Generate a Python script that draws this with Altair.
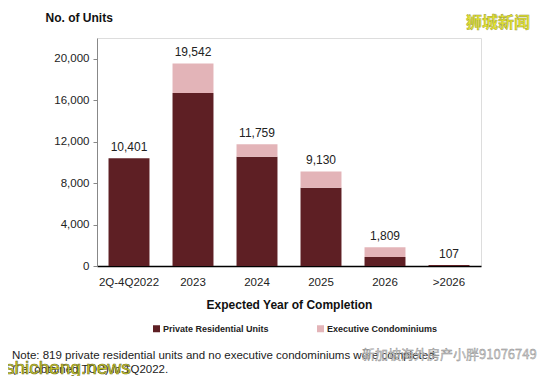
import altair as alt
import pandas as pd

categories = ["2Q-4Q2022", "2023", "2024", "2025", "2026", ">2026"]
totals = [10401, 19542, 11759, 9130, 1809, 107]
private_units = [10401, 16700, 10530, 7550, 880, 107]
ec_units = [t - p for t, p in zip(totals, private_units)]
series_names = ["Private Residential Units", "Executive Condominiums"]
series_colors = ["#5E1F24", "#E3B4B8"]
y_ticks = [0, 4000, 8000, 12000, 16000, 20000]

rows = []
for c, p, e in zip(categories, private_units, ec_units):
    rows.append({"cat": c, "series": series_names[0], "units": p, "ord": 0})
    rows.append({"cat": c, "series": series_names[1], "units": e, "ord": 1})
df = pd.DataFrame(rows)
df_tot = pd.DataFrame({"cat": categories, "total": totals})

FONT = "Liberation Sans"

x_enc = alt.X(
    "cat:N",
    sort=categories,
    scale=alt.Scale(paddingInner=0.36, paddingOuter=0.18),
    axis=alt.Axis(
        title="Expected Year of Completion",
        labelAngle=0,
        ticks=False,
        domainColor="#000000",
        domainWidth=1.5,
        labelFontSize=11.5,
        labelColor="#222222",
        labelPadding=10,
        titleFontSize=12,
        titleFontWeight="bold",
        titleColor="#111111",
        titlePadding=12,
    ),
)

bars = alt.Chart(df).mark_bar().encode(
    x=x_enc,
    y=alt.Y(
        "units:Q",
        stack="zero",
        scale=alt.Scale(domain=[0, 22000], nice=False),
        axis=alt.Axis(
            title="No. of Units",
            values=y_ticks,
            format=",.0f",
            grid=False,
            domainColor="#888888",
            tickColor="#888888",
            tickSize=4,
            labelFontSize=11.5,
            labelColor="#222222",
            labelPadding=4,
            titleAngle=0,
            titleAlign="left",
            titleBaseline="alphabetic",
            titleX=-52,
            titleY=-17,
            titleFontSize=12,
            titleFontWeight="bold",
            titleColor="#111111",
        ),
    ),
    color=alt.Color(
        "series:N",
        scale=alt.Scale(domain=series_names, range=series_colors),
        legend=alt.Legend(
            title=None,
            orient="none",
            legendX=55,
            legendY=286,
            direction="horizontal",
            symbolType="square",
            symbolSize=49,
            symbolStrokeWidth=0,
            labelFontSize=9,
            labelFontWeight="bold",
            labelColor="#222222",
            labelOffset=2,
            columnPadding=47,
            padding=0,
        ),
    ),
    order=alt.Order("ord:Q"),
)

labels = alt.Chart(df_tot).mark_text(
    dy=-11, fontSize=12, color="#222222", font=FONT
).encode(
    x=alt.X("cat:N", sort=categories),
    y=alt.Y("total:Q"),
    text=alt.Text("total:Q", format=","),
)

blank = alt.Data(values=[{}])

def note(txt, x, y, font=FONT, **kw):
    return alt.Chart(blank).mark_text(align="left", baseline="alphabetic", font=font, **kw).encode(
        x=alt.value(x), y=alt.value(y), text=alt.value(txt)
    )

note1 = note("Note: 819 private residential units and no executive condominiums were completed", -85, 321, fontSize=11.5, color="#222222")
note2 = note("(i.e. obtained TOP) in 1Q2022.", -85, 335, fontSize=11.5, color="#222222")
wm1 = note("狮城新闻", 369, -10, font="Noto Sans CJK SC", fontSize=16, color="#E5E52A", fontWeight="bold", stroke="#9a9a40", strokeWidth=0.4)
wm2 = note("shicheng.news", -92, 336, fontSize=19, color="#D8D82A", stroke="#6a6a20", strokeWidth=0.6)
wm3 = note("新加坡海外房产小胖91076749", 265, 321, font="Noto Sans CJK SC", fontSize=13, color="#d8d8d8", stroke="#8a8a8a", strokeWidth=0.4)

chart = alt.layer(bars, labels, note1, note2, wm1, wm2, wm3).properties(
    width=384,
    height=228,
    autosize=alt.AutoSizeParams(type="none"),
    padding={"left": 89, "top": 30, "right": 60, "bottom": 110},
    background="#ffffff",
).configure_view(stroke=None).configure(font=FONT)

chart.save("out.html", embed_options={"renderer": "svg", "actions": False})
